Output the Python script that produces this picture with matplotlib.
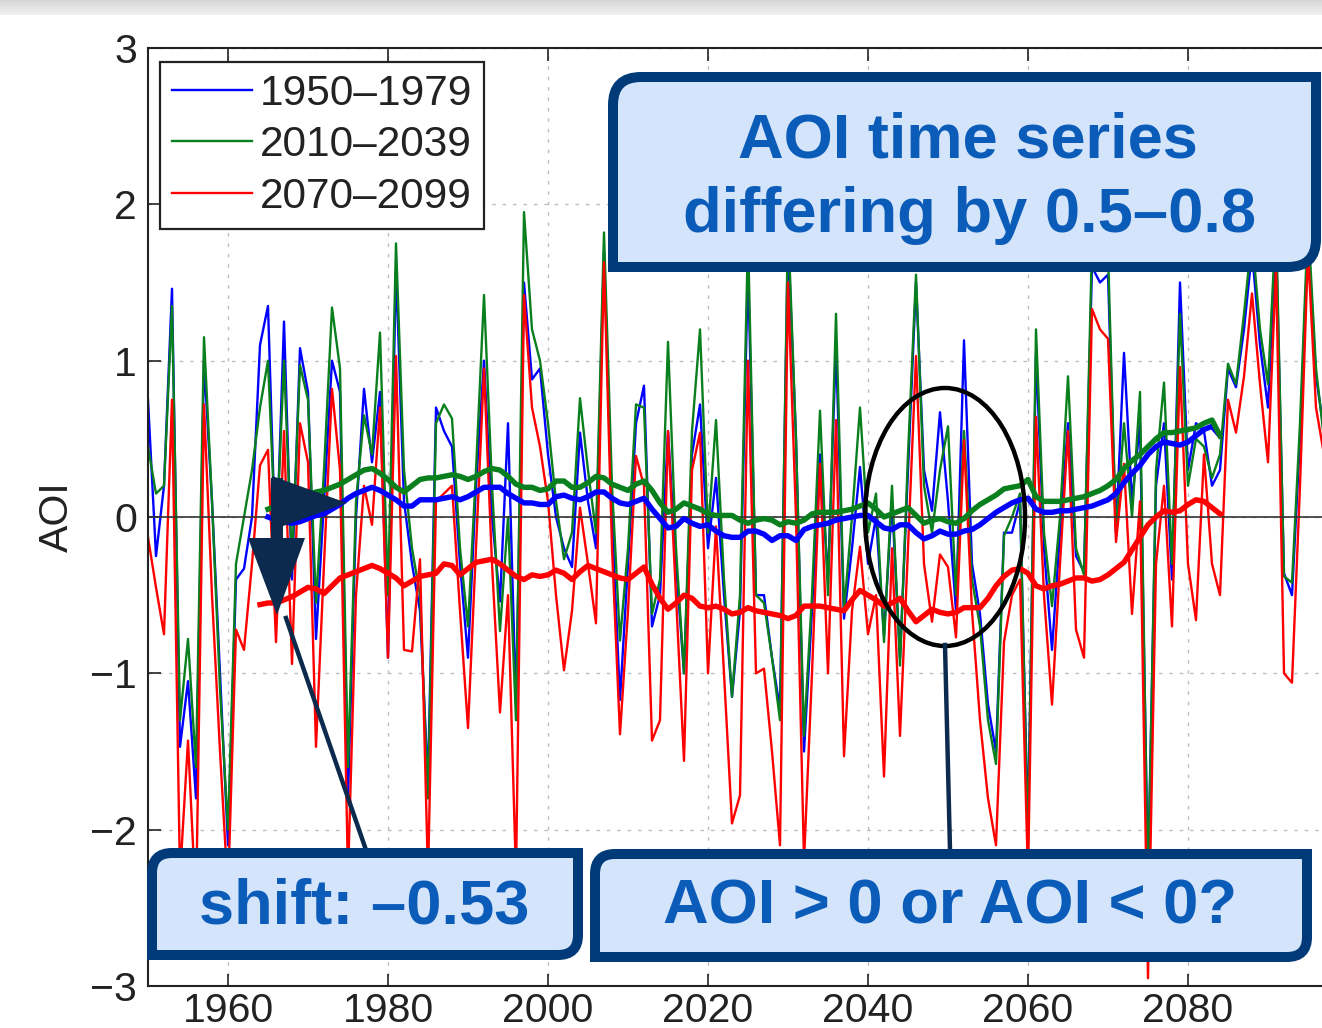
import numpy as np
import matplotlib
matplotlib.use("Agg")
import matplotlib.pyplot as plt
from matplotlib.patches import PathPatch, Ellipse, Polygon, Rectangle
from matplotlib.path import Path
from matplotlib.lines import Line2D

plt.rcParams['font.family'] = ['Liberation Sans', 'DejaVu Sans']

# ---------------- data ----------------
first_year = 1950
blue_thin = [
    0.75, -0.25, 0.2, 1.46, -1.47, -1.05, -1.8, 1.0, 0.1, -1.0,
    -2.1, -0.4, -0.33, 0.0, 1.1, 1.35, -0.3, 1.25, -0.4, 1.08,
    0.8, -0.78, 0.1, 1.0, 0.8, -1.8, 0.0, 0.82, 0.35, 0.8,
    -0.9, 1.6, 0.1, -0.3, -0.6, -1.7, 0.7, 0.55, 0.45, -0.3,
    -0.9, 0.2, 1.0, 0.0, -0.54, 0.6, -1.2, 1.5, 0.88, 0.95,
    0.4, 0.0, -0.2, -0.32, 0.54, 0.1, -0.2, 1.7, 0.0, -1.17,
    -0.3, 0.6, 0.84, -0.7, -0.5, 0.55, -0.3, -1.0, 0.4, 0.72,
    -0.2, 0.25, -0.5, -1.15, -0.6, 1.6, -0.5, -0.5, -0.9, -1.23,
    1.8, 0.5, -1.5, -0.6, 0.4, -0.4, 1.1, -0.65, -0.2, 0.32,
    -0.3, 0.0, -0.75, 0.1, -0.9, 0.3, 1.5, 0.3, 0.04, 0.67,
    0.1, -0.6, 1.13, -0.3, -0.62, -1.2, -1.5, -0.1, -0.1, 0.1,
    -2.0, 1.05, -0.2, -0.85, -0.1, 0.6, -0.25, -0.35, 1.6, 1.5,
    1.55, -0.1, 1.05, 0.1, 0.6, -2.3, 0.2, 0.6, -0.4, 1.5,
    0.3, 0.6, 0.55, 0.2, 0.3, 0.95, 0.83, 1.2, 1.7, 1.1,
    0.7, 1.8, -0.36, -0.5, 0.5, 1.8, 0.9, 0.55,
]
green_thin = [
    0.45, 0.15, 0.2, 1.35, -1.3, -0.78, -1.6, 1.15, 0.1, -1.1,
    -2.0, -0.3, 0.0, 0.3, 0.7, 1.0, -0.2, 1.0, -0.3, 0.97,
    0.75, -0.55, 0.3, 1.34, 0.95, -1.6, 0.1, 0.65, 0.4, 1.18,
    -0.5, 1.75, 0.3, -0.2, -0.5, -1.8, 0.6, 0.72, 0.63, -0.2,
    -0.7, 0.3, 1.42, 0.2, -0.73, 0.0, -1.3, 1.95, 1.2, 1.0,
    0.6, 0.1, -0.27, -0.1, 0.76, 0.3, -0.1, 1.82, 0.2, -0.79,
    -0.2, 0.72, 0.7, -0.62, -0.4, 1.12, -0.2, -1.0, 0.55, 1.2,
    -0.1, 0.62, -0.4, -1.15, -0.5, 1.8, -0.5, -0.55, -0.9, -1.3,
    1.9, 0.5, -1.4, -0.5, 0.68, -0.5, 1.3, -0.6, 0.0, 0.7,
    -0.1, 0.15, -0.8, 0.2, -0.95, 0.4, 1.55, 0.2, -0.1, 0.3,
    0.58, -0.5, 0.55, -0.4, -0.7, -1.3, -1.58, -0.12, 0.0, 0.15,
    -2.1, 1.2, -0.1, -0.57, 0.0, 0.9, -0.2, -0.37, 1.75, 1.65,
    1.7, -0.1, 0.6, 0.0, 0.8, -2.4, 0.3, 0.86, -0.3, 1.3,
    0.2, 0.5, 0.45, 0.25, 0.4, 0.98, 0.85, 1.3, 1.8, 1.2,
    0.85, 1.9, -0.38, -0.42, 0.6, 1.9, 0.95, 0.5,
]
red_thin = [
    -0.13, -0.45, -0.75, 0.75, -2.3, -1.43, -2.5, 0.72, -0.5, -1.5,
    -2.4, -0.72, -0.85, -0.3, 0.33, 0.43, -0.8, 0.55, -0.94, 0.6,
    0.35, -1.47, -0.3, 0.82, 0.3, -2.3, -0.5, 0.2, -0.05, 0.7,
    -0.9, 1.03, -0.85, -0.86, -0.27, -2.3, 0.1, 0.15, 0.2, -0.6,
    -1.35, -0.2, 0.95, -0.3, -1.25, -0.5, -2.3, 1.42, 0.7, 0.45,
    0.1, -0.5, -0.98, -0.6, 0.06, -0.3, -0.68, 1.63, -0.2, -1.39,
    -0.6, 0.39, 0.2, -1.43, -1.3, 0.55, -0.5, -1.56, 0.3, 0.54,
    -1.0, -0.06, -1.0, -1.96, -1.78, 1.0, -1.0, -0.97, -1.5, -2.1,
    1.5, 0.0, -2.2, -1.0, 0.34, -1.0, 0.62, -1.53, -0.6, -0.19,
    -0.75, -0.5, -1.66, -0.2, -1.4, -0.2, 1.03, -0.3, -0.67, -0.24,
    -0.32, -0.77, 0.49, -0.6, -1.3, -1.8, -2.1, -0.8, -0.5, -0.4,
    -2.3, 0.64, -0.5, -1.2, -0.3, 0.55, -0.72, -0.9, 1.33, 1.2,
    1.14, -0.16, 0.34, -0.62, 0.1, -2.95, -0.3, 0.2, -0.7, 0.96,
    -0.3, -0.66, 0.4, -0.3, -0.5, 0.75, 0.54, 0.9, 1.43, 0.85,
    0.35, 1.6, -1.0, -1.06, 0.2, 1.7, 0.7, 0.4,
]

mean_first_year = 1965
blue_mean = [
    0.0, -0.02, -0.03, -0.04, -0.03,
    -0.01, 0.01, 0.02, 0.05, 0.08, 0.12, 0.15, 0.17, 0.19, 0.17,
    0.14, 0.11, 0.07, 0.07, 0.11, 0.11, 0.11, 0.12, 0.13, 0.11,
    0.13, 0.16, 0.19, 0.19, 0.19, 0.15, 0.12, 0.09, 0.09, 0.08,
    0.08, 0.13, 0.14, 0.12, 0.11, 0.13, 0.16, 0.16, 0.12, 0.09,
    0.08, 0.10, 0.12, 0.05, -0.01, -0.07, -0.06, -0.01, -0.04, -0.06,
    -0.05, -0.09, -0.12, -0.13, -0.13, -0.09, -0.09, -0.11, -0.15, -0.12,
    -0.12, -0.15, -0.08, -0.06, -0.05, -0.04, -0.02, -0.01, 0.0, 0.01,
    0.01, -0.03, -0.07, -0.08, -0.05, -0.05, -0.10, -0.14, -0.12, -0.09,
    -0.11, -0.11, -0.09, -0.08, -0.05, -0.01, 0.03, 0.06, 0.09, 0.11,
    0.12, 0.05, 0.03, 0.03, 0.04, 0.04, 0.05, 0.06, 0.07, 0.09,
    0.11, 0.15, 0.22, 0.28, 0.33, 0.40, 0.45, 0.48, 0.47, 0.46,
    0.48, 0.52, 0.56, 0.58, 0.52,
]
green_mean = [
    0.05, 0.07, 0.08, 0.10, 0.12,
    0.14, 0.16, 0.17, 0.19, 0.21, 0.24, 0.27, 0.30, 0.31, 0.28,
    0.24, 0.19, 0.16, 0.20, 0.24, 0.25, 0.25, 0.26, 0.27, 0.26,
    0.24, 0.26, 0.29, 0.31, 0.30, 0.26, 0.21, 0.19, 0.19, 0.17,
    0.18, 0.23, 0.23, 0.19, 0.19, 0.22, 0.26, 0.25, 0.21, 0.19,
    0.17, 0.21, 0.23, 0.17, 0.09, 0.03, 0.05, 0.09, 0.07, 0.05,
    0.02, 0.01, 0.01, 0.01, -0.02, -0.04, -0.02, -0.01, -0.02, -0.05,
    -0.03, -0.04, -0.02, 0.02, 0.03, 0.03, 0.03, 0.04, 0.05, 0.07,
    0.09, 0.05, 0.0, 0.02, 0.04, 0.06, 0.01, -0.04, -0.02, -0.01,
    -0.03, -0.04, -0.01, 0.04, 0.08, 0.11, 0.14, 0.18, 0.19, 0.20,
    0.24, 0.13, 0.10, 0.10, 0.10, 0.11, 0.12, 0.13, 0.15, 0.17,
    0.20, 0.24, 0.31, 0.36, 0.40, 0.45, 0.50, 0.54, 0.54, 0.55,
    0.56, 0.57, 0.60, 0.62, 0.52,
]
red_mean_first_year = 1964
red_mean = [
    -0.56, -0.55, -0.55, -0.53, -0.51, -0.48,
    -0.45, -0.46, -0.49, -0.44, -0.39, -0.37, -0.35, -0.33, -0.31, -0.33,
    -0.36, -0.39, -0.44, -0.41, -0.38, -0.37, -0.36, -0.30, -0.31, -0.37,
    -0.33, -0.29, -0.28, -0.27, -0.30, -0.34, -0.38, -0.40, -0.37, -0.38,
    -0.37, -0.34, -0.36, -0.40, -0.35, -0.31, -0.33, -0.35, -0.37, -0.39,
    -0.40, -0.36, -0.32, -0.43, -0.52, -0.59, -0.55, -0.50, -0.52, -0.57,
    -0.58, -0.57, -0.59, -0.62, -0.61, -0.58, -0.60, -0.61, -0.62, -0.63,
    -0.65, -0.63, -0.57, -0.57, -0.57, -0.58, -0.59, -0.60, -0.53, -0.47,
    -0.50, -0.53, -0.57, -0.55, -0.52, -0.60, -0.67, -0.63, -0.59, -0.61,
    -0.62, -0.61, -0.58, -0.58, -0.58, -0.52, -0.44, -0.38, -0.34, -0.33,
    -0.36, -0.44, -0.46, -0.44, -0.43, -0.41, -0.39, -0.39, -0.41, -0.40,
    -0.37, -0.33, -0.29, -0.21, -0.13, -0.05, 0.00, 0.04, 0.03, 0.04,
    0.08, 0.11, 0.10, 0.06, 0.02,
]

legend_labels = ['1950–1979', '2010–2039', '2070–2099']
x_ticks = [1960, 1980, 2000, 2020, 2040, 2060, 2080]
y_ticks = [-3, -2, -1, 0, 1, 2, 3]

box_top_lines = ['AOI time series', 'differing by 0.5–0.8']
box_shift_text = 'shift: –0.53'
box_question_text = 'AOI > 0 or AOI < 0?'

# ---------------- styling ----------------
W, H = 1322, 1028
BLUE, GREEN, RED = '#0000ff', '#0a7f1e', '#ff0000'
BOX_FILL, BOX_EDGE, BOX_TEXT = '#d4e4fa', '#003a78', '#0b5cb9'
NAVY = '#0b2a4d'
INK = '#222222'

fig = plt.figure(figsize=(W / 100, H / 100), dpi=100)
fig.patch.set_facecolor('white')


def P(x, y):
    """pixel (y downward) -> figure fraction"""
    return (x / W, 1 - y / H)


# top grey band (screenshot frame)
for i in range(15):
    g = 0.84 + 0.10 * i / 14
    fig.add_artist(Rectangle(P(0, i + 1), 1, 1 / H, transform=fig.transFigure,
                             facecolor=(g, g, g), edgecolor='none', zorder=0))

ax = fig.add_axes([148 / W, (H - 986) / H, 1200 / W, 938 / H])
ax.set_xlim(1950, 2100)
ax.set_ylim(-3, 3)

years = np.arange(first_year, first_year + len(blue_thin))
ax.plot(years, blue_thin, color=BLUE, lw=1.7, zorder=2)
ax.plot(years, green_thin, color=GREEN, lw=1.7, zorder=2.1)
ax.plot(years, red_thin, color=RED, lw=1.7, zorder=2.2)

ax.axhline(0, color='#333333', lw=1.2, zorder=2.5)

myears = np.arange(mean_first_year, mean_first_year + len(blue_mean))
ryears = np.arange(red_mean_first_year, red_mean_first_year + len(red_mean))
ax.plot(myears, blue_mean, color=BLUE, lw=3.9, zorder=3)
ax.plot(myears, green_mean, color=GREEN, lw=3.9, zorder=3.1)
ax.plot(ryears, red_mean, color=RED, lw=3.9, zorder=3.2)

ax.set_xticks(x_ticks)
ax.set_yticks(y_ticks)
ax.set_xticklabels([str(t) for t in x_ticks])
ax.set_yticklabels(['−%d' % -t if t < 0 else str(t) for t in y_ticks])
ax.grid(True, color='#bdbdbd', lw=1.0, linestyle=(0, (2.5, 5)))
ax.set_axisbelow(True)
ax.tick_params(direction='in', length=9, width=1.2, top=True, right=True,
               labelsize=29.5, colors=INK, labelcolor=INK)
ax.tick_params(axis='x', pad=4)
ax.tick_params(axis='y', pad=8)
for s in ax.spines.values():
    s.set_color(INK)
    s.set_linewidth(1.5)

ax.set_ylabel('AOI', fontsize=29.5, color=INK, va='center')
ax.yaxis.set_label_coords((57 - 148) / 1200, 0.5)

handles = [Line2D([], [], color=c, lw=1.7) for c in (BLUE, GREEN, RED)]
leg = ax.legend(handles, legend_labels, loc='upper left',
                bbox_to_anchor=P(160, 62), bbox_transform=fig.transFigure,
                borderaxespad=0, fontsize=30.5, frameon=True, fancybox=False,
                framealpha=1, edgecolor=INK, handlelength=1.9,
                handletextpad=0.17, labelspacing=0.27, borderpad=0.28)
leg.get_frame().set_linewidth(1.6)
for t in leg.get_texts():
    t.set_color(INK)


def diag_box(x0, y0, x1, y1, r):
    verts = [(x0, y1), (x0, y0 + r), (x0, y0), (x0 + r, y0), (x1, y0),
             (x1, y1 - r), (x1, y1), (x1 - r, y1), (x0, y1)]
    codes = [Path.MOVETO, Path.LINETO, Path.CURVE3, Path.CURVE3, Path.LINETO,
             Path.LINETO, Path.CURVE3, Path.CURVE3, Path.CLOSEPOLY]
    path = Path([P(*v) for v in verts], codes)
    fig.add_artist(PathPatch(path, transform=fig.transFigure, facecolor=BOX_FILL,
                             edgecolor=BOX_EDGE, lw=7.2, joinstyle='miter', zorder=6))


# pointer shapes
fig.add_artist(Ellipse(P(945, 517), 160 / W, 258 / H, transform=fig.transFigure,
                       facecolor='none', edgecolor='black', lw=3.2, zorder=5))
fig.add_artist(Line2D([P(945, 645)[0], P(950, 850)[0]], [P(945, 645)[1], P(950, 850)[1]],
                      transform=fig.transFigure, color=NAVY, lw=3.2, zorder=5))
fig.add_artist(Line2D([P(286, 618)[0], P(366, 850)[0]], [P(286, 618)[1], P(366, 850)[1]],
                      transform=fig.transFigure, color=NAVY, lw=3.2, zorder=5))
fig.add_artist(Rectangle(P(271, 540), 12 / W, 62 / H, transform=fig.transFigure,
                         facecolor=NAVY, edgecolor='none', zorder=5))
fig.add_artist(Polygon([P(272, 476), P(272, 530), P(347, 503)], closed=True,
                       transform=fig.transFigure, facecolor=NAVY, edgecolor='none', zorder=5))
fig.add_artist(Polygon([P(248, 538), P(305, 538), P(277, 615)], closed=True,
                       transform=fig.transFigure, facecolor=NAVY, edgecolor='none', zorder=5))

# annotation boxes
diag_box(613, 77, 1316, 267, 28)
diag_box(152, 853, 578, 955, 20)
diag_box(595, 854, 1307, 957, 20)

tkw = dict(color=BOX_TEXT, fontsize=45.5, fontweight='bold', ha='center',
           va='baseline', zorder=7)
fig.text(*P(968, 157), box_top_lines[0], **tkw)
fig.text(*P(970, 232), box_top_lines[1], **tkw)
fig.text(*P(364, 923), box_shift_text, **tkw)
fig.text(*P(950, 923), box_question_text, **tkw)

fig.savefig('out.png', dpi=100)
